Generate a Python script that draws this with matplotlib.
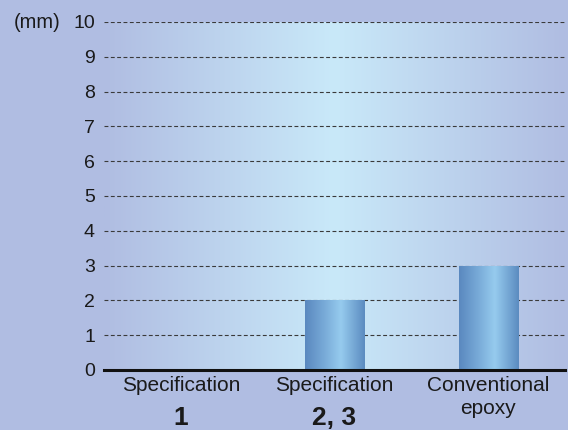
import numpy as np
import matplotlib
matplotlib.use("Agg")
import matplotlib.pyplot as plt
from matplotlib.colors import LinearSegmentedColormap

plt.rcParams["font.family"] = ["Liberation Sans", "DejaVu Sans"]

categories = ["Specification", "Specification", "Conventional\nepoxy"]
sub_labels = ["1", "2, 3", ""]
values = [0, 2, 3]
yticks = list(range(0, 11))

bg = "#b0bde2"
fig = plt.figure(figsize=(5.68, 4.3), dpi=100, facecolor=bg)
ax = fig.add_axes([104/568, 1 - 370/430, (565-104)/568, (370-22)/430])
ax.set_xlim(-0.5, 2.5)
ax.set_ylim(0, 10)

# background gradient
bg_cmap = LinearSegmentedColormap.from_list("bg", ["#b0bde2", "#c9e9f9", "#b0bde2"])
grad = np.linspace(0, 1, 256).reshape(1, -1)
ax.imshow(grad, cmap=bg_cmap, aspect="auto", extent=[0, 1, 0, 1],
          transform=ax.transAxes, zorder=0, interpolation="bilinear")
ax.set_facecolor(bg)

# gridlines
for t in yticks[1:]:
    ax.axhline(t, color="#3a3a3a", lw=0.8, ls=(0, (3.5, 2.2)), zorder=1)

bars = ax.bar(range(len(values)), values, width=0.385, color="#6a9ccc", zorder=2)
bar_cmap = LinearSegmentedColormap.from_list(
    "bar", [(0, "#5a88bf"), (0.3, "#76a8d6"), (0.6, "#96cbee"), (1, "#5b8bc0")])
for b in bars:
    if b.get_height() <= 0:
        continue
    x0, w, h = b.get_x(), b.get_width(), b.get_height()
    im = ax.imshow(grad, cmap=bar_cmap, aspect="auto", extent=[x0, x0 + w, 0, h],
                   zorder=2.5, interpolation="bilinear")
    im.set_clip_path(b)

ax.set_xlim(-0.5, 2.5)
ax.set_ylim(0, 10)
for s in ["left", "right", "top"]:
    ax.spines[s].set_visible(False)
ax.spines["bottom"].set_linewidth(2.2)
ax.spines["bottom"].set_color("#111111")
ax.spines["bottom"].set_zorder(5)

ax.set_yticks(yticks)
ax.set_yticklabels([str(t) for t in yticks], fontsize=14, color="#1a1a1a")
ax.tick_params(axis="y", length=0, pad=6.5)
ax.set_xticks(range(len(categories)))
ax.set_xticklabels([])
ax.tick_params(axis="x", length=0)

for i, (c, s) in enumerate(zip(categories, sub_labels)):
    ax.text(i, -0.17, c, ha="center", va="top", fontsize=15, color="#1a1a1a",
            linespacing=1.3, transform=ax.transData)
    if s:
        ax.text(i, -1.03, s, ha="center", va="top", fontsize=19, fontweight="bold",
                color="#1a1a1a", transform=ax.transData)

fig.text(14/568, 1 - 22/430, "(mm)", ha="left", va="center", fontsize=14.5, color="#1a1a1a")

fig.savefig("out.png", dpi=100, facecolor=bg)
